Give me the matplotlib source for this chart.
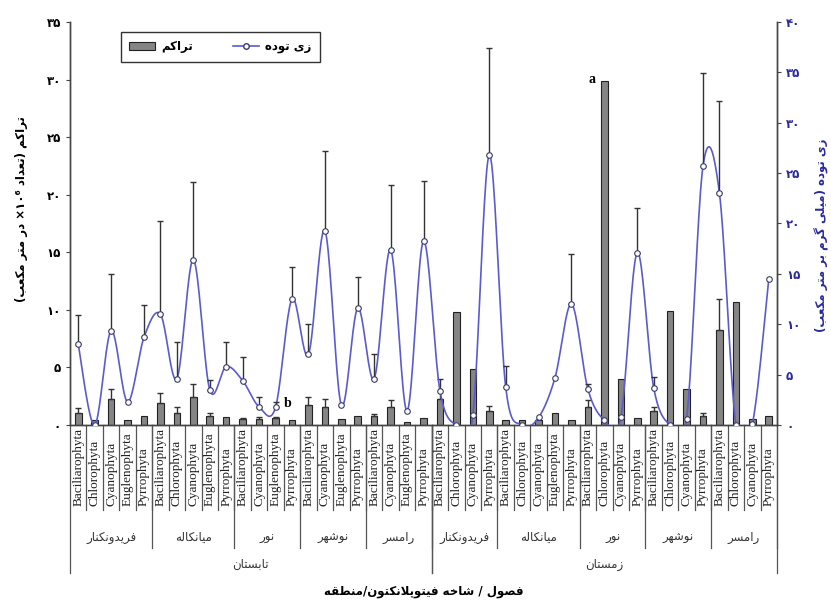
"""Phytoplankton density (bars) and biomass (smoothed line) by season / station / phylum."""
import re

import numpy as np
import matplotlib
matplotlib.use("Agg")
import matplotlib.pyplot as plt
from matplotlib.patches import Patch
from matplotlib.lines import Line2D
from matplotlib.transforms import blended_transform_factory

# ---- data ---------------------------------------------------------------
seasons = ["تابستان", "زمستان"]
stations = ["فریدونکنار", "میانکاله", "نور", "نوشهر", "رامسر"]
summer_phyla = [
    ["Baciliarophyta", "Chlorophyta", "Cyanophyta", "Euglenophyta", "Pyrrophyta"],
    ["Baciliarophyta", "Chlorophyta", "Cyanophyta", "Euglenophyta", "Pyrrophyta"],
    ["Baciliarophyta", "Cyanophyta", "Euglenophyta", "Pyrrophyta"],
    ["Baciliarophyta", "Cyanophyta", "Euglenophyta", "Pyrrophyta"],
    ["Baciliarophyta", "Cyanophyta", "Euglenophyta", "Pyrrophyta"],
]
winter_phyla = [
    ["Baciliarophyta", "Chlorophyta", "Cyanophyta", "Pyrrophyta"],
    ["Baciliarophyta", "Chlorophyta", "Cyanophyta", "Euglenophyta", "Pyrrophyta"],
    ["Baciliarophyta", "Chlorophyta", "Cyanophyta", "Pyrrophyta"],
    ["Baciliarophyta", "Chlorophyta", "Cyanophyta", "Pyrrophyta"],
    ["Baciliarophyta", "Chlorophyta", "Cyanophyta", "Pyrrophyta"],
]

# density (x10^6 per m3), left axis
density = [1.0, 0.4, 2.3, 0.45, 0.8, 1.9, 1.0, 2.4, 0.8, 0.7,
           0.5, 0.5, 0.6, 0.45, 1.75, 1.6, 0.5, 0.8, 0.8, 1.55, 0.25, 0.6,
           2.3, 9.8, 4.9, 1.2, 0.45, 0.45, 0.4, 1.05, 0.45,
           1.6, 29.9, 4.0, 0.6, 1.2, 9.9, 3.1, 0.8, 8.25, 10.7, 0.55, 0.75]
# upper end of the density error bar (None = no bar)
density_top = [1.45, None, 3.1, None, None, 2.8, 1.6, 3.6, 1.0, None,
               0.65, 0.7, 0.7, None, 2.45, 2.3, None, None, 0.95, 2.2, None, None,
               4.0, None, None, 1.65, None, None, None, None, None,
               2.2, None, None, None, 1.55, None, None, 1.0, 10.9, None, None, None]
# biomass (mg per m3), right axis
biomass = [8.0, 0.0, 9.35, 2.3, 8.7, 11.0, 4.6, 16.4, 3.5, 5.8,
           4.4, 1.8, 1.75, 12.5, 7.0, 19.3, 2.0, 11.6, 4.6, 17.4, 1.4, 18.25,
           3.4, 0.0, 1.0, 26.8, 3.75, 0.0, 0.75, 4.7, 12.0,
           3.55, 0.5, 0.75, 17.1, 3.7, 0.0, 0.6, 25.7, 23.0, 0.0, 0.1, 14.5]
biomass_top = [10.9, None, 15.0, None, 11.9, 20.2, 8.2, 24.1, 4.5, 8.2,
               6.7, 2.8, 2.3, 15.7, 10.0, 27.2, None, 14.7, 7.0, 23.8, None, 24.2,
               None, None, None, 37.4, 5.85, None, None, None, 17.0,
               4.1, None, None, 21.5, 4.8, None, None, 34.9, 32.2, None, None, None]

left_ticks = [0, 5, 10, 15, 20, 25, 30, 35]
right_ticks = [0, 5, 10, 15, 20, 25, 30, 35, 40]

# ---- minimal Persian shaping + right-to-left ordering -------------------
FORMS = {  # isolated, final, initial, medial
    "ا": (0xFE8D, 0xFE8E, None, None), "ب": (0xFE8F, 0xFE90, 0xFE91, 0xFE92),
    "پ": (0xFB56, 0xFB57, 0xFB58, 0xFB59), "ت": (0xFE95, 0xFE96, 0xFE97, 0xFE98),
    "خ": (0xFEA5, 0xFEA6, 0xFEA7, 0xFEA8), "د": (0xFEA9, 0xFEAA, None, None),
    "ر": (0xFEAD, 0xFEAE, None, None), "ز": (0xFEAF, 0xFEB0, None, None),
    "س": (0xFEB1, 0xFEB2, 0xFEB3, 0xFEB4), "ش": (0xFEB5, 0xFEB6, 0xFEB7, 0xFEB8),
    "ص": (0xFEB9, 0xFEBA, 0xFEBB, 0xFEBC), "ط": (0xFEC1, 0xFEC2, 0xFEC3, 0xFEC4),
    "ع": (0xFEC9, 0xFECA, 0xFECB, 0xFECC), "ف": (0xFED1, 0xFED2, 0xFED3, 0xFED4),
    "ق": (0xFED5, 0xFED6, 0xFED7, 0xFED8), "ک": (0xFB8E, 0xFB8F, 0xFB90, 0xFB91),
    "گ": (0xFB92, 0xFB93, 0xFB94, 0xFB95), "ل": (0xFEDD, 0xFEDE, 0xFEDF, 0xFEE0),
    "م": (0xFEE1, 0xFEE2, 0xFEE3, 0xFEE4), "ن": (0xFEE5, 0xFEE6, 0xFEE7, 0xFEE8),
    "ه": (0xFEE9, 0xFEEA, 0xFEEB, 0xFEEC), "و": (0xFEED, 0xFEEE, None, None),
    "ی": (0xFBFC, 0xFBFD, 0xFBFE, 0xFBFF),
}


def shape(s):
    res, i = [], 0
    while i < len(s):
        c = s[i]
        if c not in FORMS:
            res.append((c, False))
            i += 1
            continue
        prev = bool(res) and res[-1][1]
        if c == "ل" and i + 1 < len(s) and s[i + 1] == "ا":
            res.append((chr(0xFEFC if prev else 0xFEFB), False))
            i += 2
            continue
        f = FORMS[c]
        nxt = f[2] is not None and i + 1 < len(s) and s[i + 1] in FORMS
        g = f[3] if prev and nxt else f[1] if prev else f[2] if nxt else f[0]
        res.append((chr(g), nxt))
        i += 1
    return "".join(ch for ch, _ in res)


def fa(s):
    runs = re.findall(r"[0-9۰-۹⁰-⁹]+|[^0-9۰-۹⁰-⁹]", shape(s))
    return "".join(reversed(runs)).translate(str.maketrans("()", ")("))


def to_fa_digits(v):
    return str(v).translate(str.maketrans("0123456789", "۰۱۲۳۴۵۶۷۸۹"))


def smooth(x, y, n=20):
    """Catmull-Rom curve through the points (Excel style smoothed line)."""
    p = np.column_stack([x, y]).astype(float)
    p = np.vstack([p[0], p, p[-1]])
    t = np.linspace(0, 1, n, endpoint=False)[:, None]
    pts = []
    for k in range(1, len(p) - 2):
        p0, p1, p2, p3 = p[k - 1], p[k], p[k + 1], p[k + 2]
        pts.append(0.5 * (2 * p1 + (p2 - p0) * t + (2 * p0 - 5 * p1 + 4 * p2 - p3) * t ** 2
                          + (3 * p1 - p0 - 3 * p2 + p3) * t ** 3))
    pts.append(p[-2][None, :])
    pts = np.vstack(pts)
    return pts[:, 0], pts[:, 1]


FA = ["DejaVu Sans"]
plt.rcParams["font.family"] = FA

groups = [summer_phyla, winter_phyla]
labels = [ph for g in groups for st in g for ph in st]
x = np.arange(len(labels))

fig = plt.figure(figsize=(8.31, 6.05), dpi=100)
ax = fig.add_axes([70 / 831, 180 / 605, 707 / 831, 403 / 605])
ax2 = ax.twinx()

ax.bar(x, density, width=0.4, color="#858585", edgecolor="#222222", linewidth=0.8, zorder=2)
idx = [i for i, v in enumerate(density_top) if v is not None]
ax.errorbar(x[idx], [density[i] for i in idx],
            yerr=[[0] * len(idx), [density_top[i] - density[i] for i in idx]],
            fmt="none", ecolor="#333333", elinewidth=1, capsize=2.5, capthick=1, zorder=3)

sx, sy = smooth(x, biomass)
ax2.plot(sx, sy, color="#5a5ad2", lw=1.2, zorder=3)
idx = [i for i, v in enumerate(biomass_top) if v is not None]
ax2.errorbar(x[idx], [biomass[i] for i in idx],
             yerr=[[0] * len(idx), [biomass_top[i] - biomass[i] for i in idx]],
             fmt="none", ecolor="#333333", elinewidth=1, capsize=2.5, capthick=1, zorder=4)
ax2.plot(x, biomass, ls="none", marker="o", ms=4, mfc="white", mec="#3a3a6a", mew=0.8, zorder=5)

ax.set_xlim(-0.5, len(labels) - 0.5)
ax.set_ylim(0, 35)
ax2.set_ylim(0, 40)
ax.set_yticks(left_ticks)
ax.set_yticklabels([to_fa_digits(v) for v in left_ticks], fontweight="bold", fontsize=8.5)
ax2.set_yticks(right_ticks)
ax2.set_yticklabels([to_fa_digits(v) for v in right_ticks], fontweight="bold", fontsize=8.5,
                    color="#2a2aa0")
ax.tick_params(axis="x", length=0, labelbottom=False)
ax.tick_params(axis="y", length=3, color="#444444")
ax2.tick_params(axis="y", length=3, color="#444444")
for a in (ax, ax2):
    a.spines["top"].set_visible(False)
    for s in ("left", "right", "bottom"):
        a.spines[s].set_color("#444444")
        a.spines[s].set_linewidth(1.0)

ax.text(-0.068, 0.535, fa("تراکم (تعداد ۱۰⁶× در متر مکعب)"), transform=ax.transAxes,
        rotation=90, ha="center", va="center", fontsize=8.5, fontweight="bold")
ax.text(1.064, 0.47, fa("زی توده (میلی گرم بر متر مکعب)"), transform=ax.transAxes,
        rotation=90, ha="center", va="center", fontsize=8.5, fontweight="bold", color="#2a2aa0")

ax.text(31.45, 30.0, "a", ha="right", va="center", fontsize=10, fontweight="bold",
        family="Liberation Serif")
ax.text(12.5, 1.9, "b", ha="left", va="center", fontsize=10, fontweight="bold",
        family="Liberation Serif")

# ---- multi-level category axis ------------------------------------------
tr = blended_transform_factory(ax.transData, ax.transAxes)
line_kw = dict(color="#555555", lw=0.9, transform=tr, clip_on=False)
y_cat, y_st, y_se = -0.211, -0.305, -0.367
for i, lab in enumerate(labels):
    ax.text(i, y_cat + 0.010, lab, transform=tr, rotation=90, rotation_mode="anchor",
            ha="left", va="center", fontsize=9.5, family="Liberation Serif", color="#222222")
    if i > 0:
        ax.plot([i - 0.5, i - 0.5], [0, y_cat], **line_kw)
pos = 0
for si, g in enumerate(groups):
    start = pos
    for j, st in enumerate(g):
        ax.text(pos + (len(st) - 1) / 2, -0.278, fa(stations[j]), transform=tr,
                ha="center", va="center", fontsize=8.5, color="#333333")
        pos += len(st)
        ax.plot([pos - 0.5, pos - 0.5], [0, y_st], **line_kw)
    ax.text(start + (pos - start - 1) / 2, -0.347, fa(seasons[si]), transform=tr,
            ha="center", va="center", fontsize=8.5, color="#333333")
    ax.plot([start - 0.5, start - 0.5], [0, y_se], **line_kw)
    ax.plot([pos - 0.5, pos - 0.5], [0, y_se], **line_kw)

fig.text(423.5 / 831, 1 - 592 / 605, fa("فصول / شاخه فیتوپلانکتون/منطقه"),
         ha="center", va="center", fontsize=8.5, fontweight="bold")

# ---- legend --------------------------------------------------------------
h_bar = Patch(facecolor="#858585", edgecolor="#222222", linewidth=0.8)
h_line = Line2D([], [], color="#5a5ad2", lw=1.2, marker="o", ms=4, mfc="white", mec="#3a3a6a")
leg = ax2.legend([h_bar, h_line], [fa("تراکم"), fa("زی توده")], ncol=2,
                 loc="upper left", bbox_to_anchor=(0.064, 0.99), frameon=True,
                 fancybox=False, framealpha=1, edgecolor="#333333", borderpad=0.7,
                 columnspacing=3.4, handlelength=2.2, handletextpad=0.5,
                 prop={"weight": "bold", "size": 8.5})
leg.get_frame().set_linewidth(1.0)

fig.savefig("out.png", dpi=100)
